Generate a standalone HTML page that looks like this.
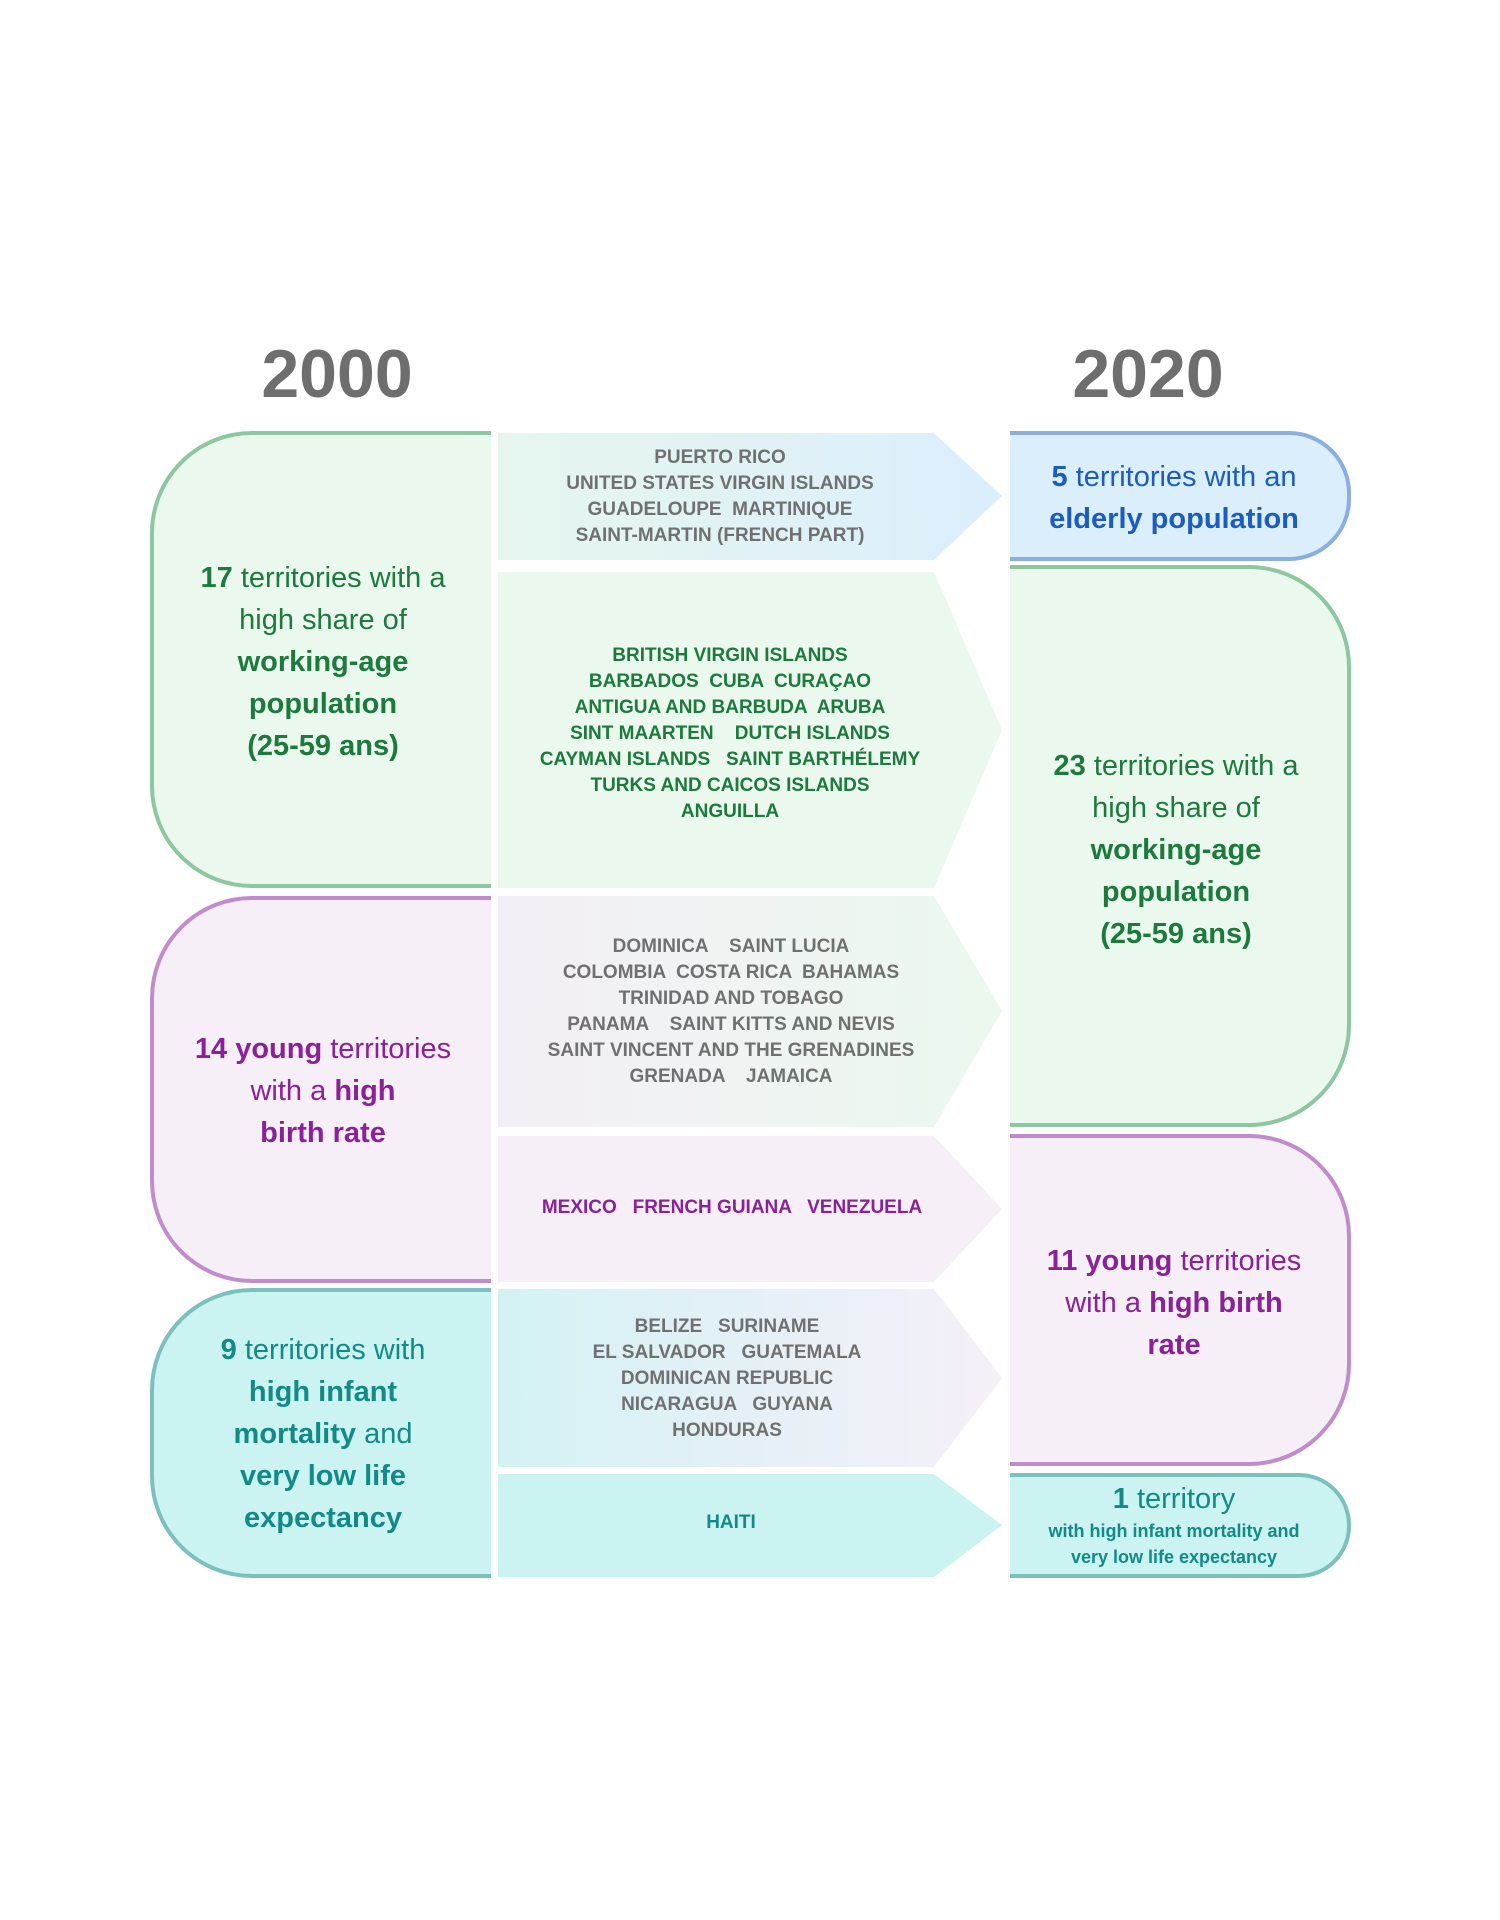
<!DOCTYPE html>
<html><head><meta charset="utf-8"><style>
body{margin:0;width:1500px;height:1920px;background:#fff;position:relative;font-family:"Liberation Sans",sans-serif;overflow:hidden}
.t{position:absolute;text-align:center;white-space:pre}
.big{font-size:29px;line-height:42px}
.mid{font-size:19px;font-weight:bold;line-height:26px;color:#707070}
b{font-weight:bold}
.g{color:#1b7a3c}.p{color:#8a2197}.c{color:#128a86}.bl{color:#1c5cc0}
</style></head><body>
<div class="t" style="left:187px;top:336px;width:300px;font-size:68px;font-weight:bold;color:#6e6e6e;line-height:76px">2000</div>
<div class="t" style="left:998px;top:336px;width:300px;font-size:68px;font-weight:bold;color:#6e6e6e;line-height:76px">2020</div>
<svg width="1500" height="1920" style="position:absolute;left:0;top:0">
<defs>
<linearGradient id="g1" x1="0" x2="1"><stop offset="0" stop-color="#e6f6ef"/><stop offset="1" stop-color="#dbeefc"/></linearGradient>
<linearGradient id="g3" x1="0" x2="1"><stop offset="0" stop-color="#f3eff6"/><stop offset="1" stop-color="#ebf8ee"/></linearGradient>
<linearGradient id="g5" x1="0" x2="1"><stop offset="0" stop-color="#d3f2f4"/><stop offset="1" stop-color="#f6eff8"/></linearGradient>
</defs>
<g stroke-width="4">
<path d="M491,433 H252 A100,100 0 0 0 152,533 V786 A100,100 0 0 0 252,886 H491" fill="#ebf8ee" stroke="#8cc79f"/>
<path d="M491,898 H252 A100,100 0 0 0 152,998 V1181 A100,100 0 0 0 252,1281 H491" fill="#f6eff8" stroke="#c08ccb"/>
<path d="M491,1290 H252 A100,100 0 0 0 152,1390 V1476 A100,100 0 0 0 252,1576 H491" fill="#caf3f2" stroke="#7cc0bd"/>
<path d="M1010,433 H1289 A60,60 0 0 1 1349,493 V499 A60,60 0 0 1 1289,559 H1010" fill="#dbeefc" stroke="#8aaee0"/>
<path d="M1010,567 H1249 A100,100 0 0 1 1349,667 V1025 A100,100 0 0 1 1249,1125 H1010" fill="#ebf8ee" stroke="#8cc79f"/>
<path d="M1010,1136 H1249 A100,100 0 0 1 1349,1236 V1364 A100,100 0 0 1 1249,1464 H1010" fill="#f6eff8" stroke="#c08ccb"/>
<path d="M1010,1475 H1299 A50,50 0 0 1 1349,1525 V1526 A50,50 0 0 1 1299,1576 H1010" fill="#caf3f2" stroke="#7cc0bd"/>
</g>
<polygon points="498,433 934,433 1002,496 934,560 498,560" fill="url(#g1)"/>
<polygon points="498,572 934,572 1002,730 934,888 498,888" fill="#ebf8ee"/>
<polygon points="498,896 934,896 1002,1011 934,1127 498,1127" fill="url(#g3)"/>
<polygon points="498,1136 934,1136 1002,1209 934,1282 498,1282" fill="#f6eff8"/>
<polygon points="498,1289 934,1289 1002,1378 934,1467 498,1467" fill="url(#g5)"/>
<polygon points="498,1474 934,1474 1002,1525 934,1577 498,1577" fill="#caf3f2"/>
</svg>

<div class="t big g" style="left:173px;top:557px;width:300px"><b>17</b> territories with a
high share of
<b>working-age
population
(25-59 ans)</b></div>
<div class="t big p" style="left:173px;top:1028px;width:300px"><b>14 young</b> territories
with a <b>high</b>
<b>birth rate</b></div>
<div class="t big c" style="left:173px;top:1329px;width:300px"><b>9</b> territories with
<b>high infant</b>
<b>mortality</b> and
<b>very low life</b>
<b>expectancy</b></div>

<div class="t big bl" style="left:1024px;top:456px;width:300px"><b>5</b> territories with an
<b>elderly population</b></div>
<div class="t big g" style="left:1026px;top:745px;width:300px"><b>23</b> territories with a
high share of
<b>working-age
population
(25-59 ans)</b></div>
<div class="t big p" style="left:1024px;top:1240px;width:300px"><b>11 young</b> territories
with a <b>high birth</b>
<b>rate</b></div>
<div class="t c" style="left:1024px;top:1480px;width:300px;font-size:29px;line-height:38px"><b>1</b> territory</div>
<div class="t c" style="left:1014px;top:1518px;width:320px;font-size:18px;font-weight:bold;line-height:26px">with high infant mortality and
very low life expectancy</div>

<div class="t mid" style="left:520px;top:445px;width:400px">PUERTO RICO
UNITED STATES VIRGIN ISLANDS
GUADELOUPE  MARTINIQUE
SAINT-MARTIN (FRENCH PART)</div>
<div class="t mid g" style="left:510px;top:643px;width:440px">BRITISH VIRGIN ISLANDS
BARBADOS  CUBA  CURAÇAO
ANTIGUA AND BARBUDA  ARUBA
SINT MAARTEN    DUTCH ISLANDS
CAYMAN ISLANDS   SAINT BARTHÉLEMY
TURKS AND CAICOS ISLANDS
ANGUILLA</div>
<div class="t mid" style="left:511px;top:934px;width:440px">DOMINICA    SAINT LUCIA
COLOMBIA  COSTA RICA  BAHAMAS
TRINIDAD AND TOBAGO
PANAMA    SAINT KITTS AND NEVIS
SAINT VINCENT AND THE GRENADINES
GRENADA    JAMAICA</div>
<div class="t mid p" style="left:512px;top:1195px;width:440px">MEXICO   FRENCH GUIANA   VENEZUELA</div>
<div class="t mid" style="left:507px;top:1314px;width:440px">BELIZE   SURINAME
EL SALVADOR   GUATEMALA
DOMINICAN REPUBLIC
NICARAGUA   GUYANA
HONDURAS</div>
<div class="t mid c" style="left:511px;top:1510px;width:440px">HAITI</div>
</body></html>
